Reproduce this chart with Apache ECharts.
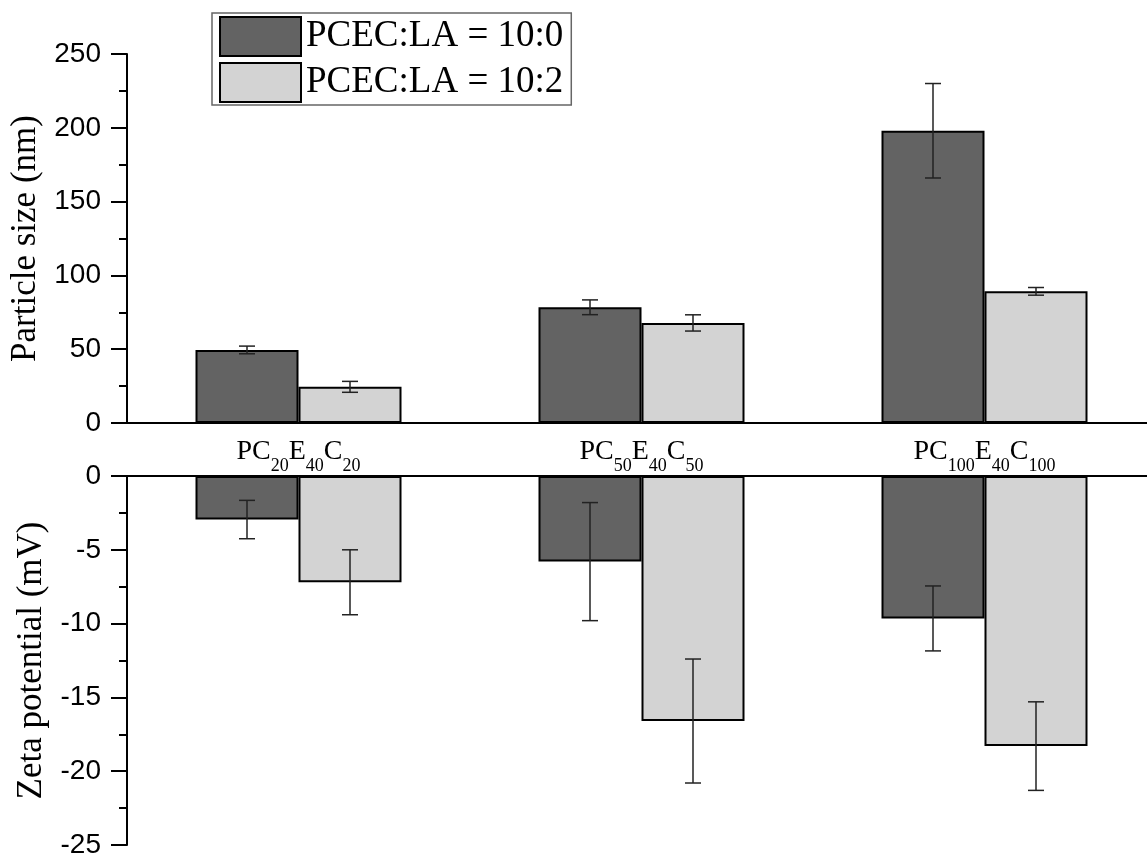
<!DOCTYPE html>
<html>
<head>
<meta charset="utf-8">
<script src="https://cdn.jsdelivr.net/npm/echarts@6/dist/echarts.min.js"></script>
<style>html,body{margin:0;padding:0;background:#fff}#c{width:1147px;height:854px}</style>
</head>
<body>
<div id="c"></div>
<script>
const categories = ['PC20E40C20', 'PC50E40C50', 'PC100E40C100'];
const seriesNames = ['PCEC:LA = 10:0', 'PCEC:LA = 10:2'];
const sizeA = [49.5, 78.4, 198];
const sizeAErr = [2.6, 5.0, 32];
const sizeB = [24.5, 67.8, 89.2];
const sizeBErr = [3.7, 5.5, 2.6];
const zetaA = [-2.95, -5.8, -9.65];
const zetaAErr = [1.3, 4.0, 2.2];
const zetaB = [-7.2, -16.6, -18.3];
const zetaBErr = [2.2, 4.2, 3.0];
const sizeTicks = {min: 0, max: 250, interval: 50};
const zetaTicks = {min: -25, max: 0, interval: 5};

const SERIF = '"Liberation Serif", "Times New Roman", serif';
const SANS = '"Liberation Sans", Arial, sans-serif';
const DARK = '#636363', LIGHT = '#d3d3d3';
const BW = 103;

function errSeries(vals, errs, side, xi, yi) {
  return {
    type: 'custom', xAxisIndex: xi, yAxisIndex: yi, z: 10, silent: true,
    data: vals.map((v, i) => [i, v, errs[i]]),
    encode: {x: 0, y: 1},
    renderItem: function (params, api) {
      const c = api.value(0), v = api.value(1), e = api.value(2);
      const hi = api.coord([c, v + e]);
      const lo = api.coord([c, v - e]);
      const x = hi[0] + side * BW / 2;
      const st = {stroke: '#222', lineWidth: 1.5};
      return {type: 'group', children: [
        {type: 'line', shape: {x1: x, y1: hi[1], x2: x, y2: lo[1]}, style: st},
        {type: 'line', shape: {x1: x - 8, y1: hi[1], x2: x + 8, y2: hi[1]}, style: st},
        {type: 'line', shape: {x1: x - 8, y1: lo[1], x2: x + 8, y2: lo[1]}, style: st}
      ]};
    }
  };
}
function barSeries(name, vals, color, xi, yi) {
  return {
    type: 'bar', name: name, xAxisIndex: xi, yAxisIndex: yi,
    data: vals, barWidth: BW, barGap: '0%',
    itemStyle: {color: color, borderColor: '#000', borderWidth: 2},
    silent: true
  };
}
const axisLineStyle = {show: true, lineStyle: {color: '#000', width: 2}};
function yAxis(ticks, gi, name) {
  return {
    type: 'value', gridIndex: gi, min: ticks.min, max: ticks.max, interval: ticks.interval,
    name: name, nameLocation: 'middle', nameGap: 74,
    nameTextStyle: {fontFamily: SERIF, fontSize: 35, color: '#000'},
    axisLine: axisLineStyle,
    axisTick: {show: true, inside: false, length: 16, lineStyle: {color: '#000', width: 2}},
    minorTick: {show: true, splitNumber: 2, length: 8, lineStyle: {color: '#000', width: 2}},
    splitLine: {show: false},
    axisLabel: {fontFamily: SANS, fontSize: 28, color: '#000', margin: 26}
  };
}
const chart = echarts.init(document.getElementById('c'));
chart.setOption({
  animation: false,
  backgroundColor: '#fff',
  grid: [
    {left: 127, top: 54, width: 1029, height: 369, outerBoundsMode: 'none', containLabel: false},
    {left: 127, top: 476, width: 1029, height: 369, outerBoundsMode: 'none', containLabel: false}
  ],
  legend: {
    orient: 'vertical', left: 212, top: 13, padding: [3, 8, 2, 7], itemGap: 5,
    itemWidth: 81, itemHeight: 39, selectedMode: false,
    borderColor: '#666', borderWidth: 1.5, backgroundColor: '#fff',
    textStyle: {fontFamily: SERIF, fontSize: 37, lineHeight: 37, color: '#000'},
    data: [
      {name: seriesNames[0], icon: 'rect', itemStyle: {color: DARK, borderColor: '#000', borderWidth: 2}},
      {name: seriesNames[1], icon: 'rect', itemStyle: {color: LIGHT, borderColor: '#000', borderWidth: 2}}
    ]
  },
  xAxis: [
    {
      type: 'category', gridIndex: 0, data: categories,
      axisLine: axisLineStyle, axisTick: {show: false},
      axisLabel: {
        margin: 15, interval: 0,
        formatter: v => v.replace(/(\d+)|(\D+)/g, (m, d, t) => d ? '{s|' + d + '}' : '{m|' + t + '}'),
        rich: {
          m: {fontFamily: SERIF, fontSize: 28, lineHeight: 28, color: '#000'},
          s: {fontFamily: SERIF, fontSize: 18, lineHeight: 18, color: '#000', padding: [29, 0, 0, 0]}
        }
      }
    },
    {
      type: 'category', gridIndex: 1, data: categories, position: 'top',
      axisLine: axisLineStyle, axisTick: {show: false}, axisLabel: {show: false}
    }
  ],
  yAxis: [
    yAxis(sizeTicks, 0, 'Particle size (nm)'),
    yAxis(zetaTicks, 1, 'Zeta potential (mV)')
  ],
  series: [
    barSeries(seriesNames[0], sizeA, DARK, 0, 0),
    barSeries(seriesNames[1], sizeB, LIGHT, 0, 0),
    barSeries(seriesNames[0], zetaA, DARK, 1, 1),
    barSeries(seriesNames[1], zetaB, LIGHT, 1, 1),
    errSeries(sizeA, sizeAErr, -1, 0, 0),
    errSeries(sizeB, sizeBErr, 1, 0, 0),
    errSeries(zetaA, zetaAErr, -1, 1, 1),
    errSeries(zetaB, zetaBErr, 1, 1, 1)
  ]
});
</script>
</body>
</html>
